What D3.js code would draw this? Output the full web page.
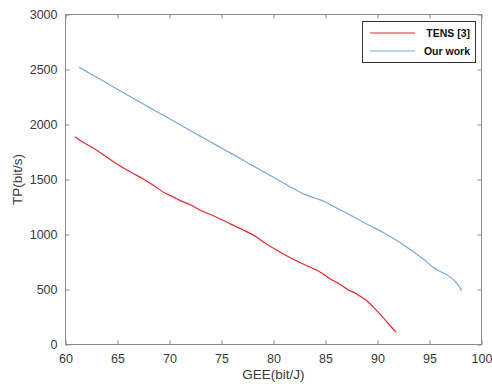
<!DOCTYPE html>
<html><head><meta charset="utf-8">
<script src="https://cdn.jsdelivr.net/npm/d3@7"></script>
<style>body{margin:0;background:#fff}svg{display:block}text{font-family:"Liberation Sans",Arial,sans-serif}</style>
</head><body><svg id="c" width="492" height="386"></svg>
<script>
const seriesNames = ["TENS [3]", "Our work"];
const seriesColors = ["#e8282d", "#78a9d9"];
const tensX = [60.9,61.5,62.5,63.5,64.5,65.7,66.5,67.5,68.4,69.7,70.4,71,72,73,74,75.2,76,77,78.4,79,80,81,82,83,84.5,85.4,86.5,87.3,87.7,88.3,89,89.6,90.2,91,91.8];
const tensY = [1888,1850,1795,1735,1668,1597,1555,1505,1450,1370,1340,1310,1270,1218,1180,1127,1090,1045,975,935,875,820,770,725,657,600,540,490,476,440,395,340,280,195,110];
const oursX = [61.3,62,63,64,65,66,67,68,69,70,71,72,73,74,75,76,77,78,79,80,81,82,83,83.7,84.5,85.5,86.5,87.5,88.5,89.5,90.5,91.5,92.5,93.5,94.5,95.3,96,96.8,97.4,97.8,98.1];
const oursY = [2521,2483,2430,2375,2320,2266,2212,2158,2105,2052,1998,1945,1892,1839,1786,1733,1679,1626,1573,1520,1466,1413,1365,1340,1315,1268,1220,1170,1118,1070,1020,965,905,840,770,705,665,625,580,535,490];
const xTicks = [60,65,70,75,80,85,90,95,100];
const yTicks = [0,500,1000,1500,2000,2500,3000];
const xLabel = "GEE(bit/J)";
const yLabel = "TP(bit/s)";

const svg = d3.select("#c");
const L = 65.5, R = 481.5, T = 14.5, B = 344.5;
const x = d3.scaleLinear().domain([60,100]).range([L,R]);
const y = d3.scaleLinear().domain([0,3000]).range([B,T]);
const axisColor = "#8a8a8a", textColor = "#3a3a3a";

function style(g){
  g.select(".domain").remove();
  g.selectAll(".tick line").attr("stroke",axisColor);
  g.selectAll(".tick text").attr("fill",textColor).style("font-size","12.5px");
}
svg.append("g").attr("transform",`translate(0,${B})`)
  .call(d3.axisBottom(x).tickValues(xTicks).tickSize(-4).tickPadding(10).tickFormat(d3.format("d"))).call(style);
svg.append("g").attr("transform",`translate(0,${T})`)
  .call(d3.axisTop(x).tickValues(xTicks).tickSize(-4).tickFormat("")).call(style);
svg.append("g").attr("transform",`translate(${L},0)`)
  .call(d3.axisLeft(y).tickValues(yTicks).tickSize(-4).tickPadding(8).tickFormat(d3.format("d"))).call(style);
svg.append("g").attr("transform",`translate(${R},0)`)
  .call(d3.axisRight(y).tickValues(yTicks).tickSize(-4).tickFormat("")).call(style);
svg.append("rect").attr("x",L).attr("y",T).attr("width",R-L).attr("height",B-T)
  .attr("fill","none").attr("stroke",axisColor).attr("stroke-width",1);

const line = d3.line().x(d=>x(d[0])).y(d=>y(d[1])).curve(d3.curveMonotoneX);
const data = [d3.zip(tensX,tensY), d3.zip(oursX,oursY)];
data.forEach((d,i)=>{
  svg.append("path").datum(d).attr("d",line).attr("fill","none")
    .attr("stroke",seriesColors[i]).attr("stroke-width",1.2);
});

svg.append("text").attr("x",(L+R)/2).attr("y",379).attr("text-anchor","middle")
  .attr("fill",textColor).style("font-size","13.5px").text(xLabel);
svg.append("text").attr("transform",`translate(22,${(T+B)/2}) rotate(-90)`).attr("text-anchor","middle")
  .attr("fill",textColor).style("font-size","13.5px").text(yLabel);

const lg = svg.append("g");
lg.append("rect").attr("x",362.5).attr("y",21.5).attr("width",113).attr("height",41)
  .attr("fill","#fff").attr("stroke","#333").attr("stroke-width",1);
seriesNames.forEach((n,i)=>{
  const yy = 33 + i*18;
  lg.append("line").attr("x1",370).attr("x2",415).attr("y1",yy).attr("y2",yy)
    .attr("stroke",seriesColors[i]).attr("stroke-width",1.2);
  lg.append("text").attr("x",470).attr("y",yy+3.8).attr("text-anchor","end")
    .attr("fill","#111").style("font-size","10.5px").style("font-weight","bold").text(n);
});
</script></body></html>
